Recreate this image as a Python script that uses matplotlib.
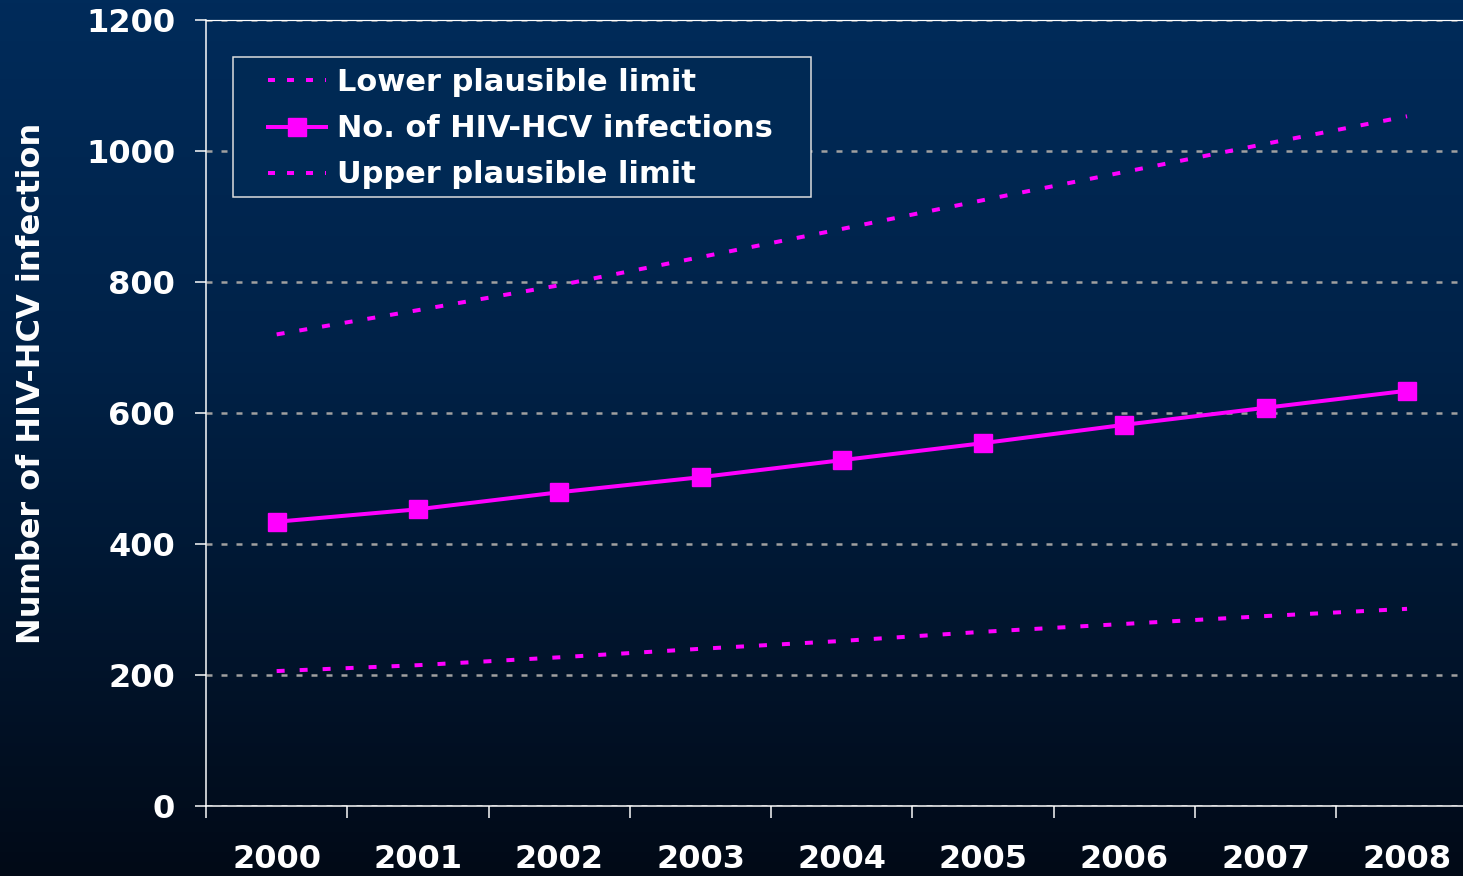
import matplotlib
matplotlib.use("Agg")
import matplotlib.pyplot as plt
import numpy as np
from matplotlib.colors import LinearSegmentedColormap
from matplotlib.patches import Rectangle
from matplotlib.lines import Line2D

years = ["2000", "2001", "2002", "2003", "2004", "2005", "2006", "2007", "2008"]
infections = [434, 453, 479, 502, 528, 554, 582, 608, 634]
upper_limit = [720, 757, 795, 838, 881, 925, 968, 1011, 1053]
lower_limit = [206, 215, 227, 240, 252, 266, 278, 290, 301]
yticks = [0, 200, 400, 600, 800, 1000, 1200]

plt.rcParams['lines.scale_dashes'] = False
plt.rcParams['font.family'] = ['DejaVu Sans']

W, H = 1463, 876
DPI = 100
fig = plt.figure(figsize=(W / DPI, H / DPI), dpi=DPI)

# background gradient
bg = fig.add_axes([0, 0, 1, 1], zorder=-10)
cmap = LinearSegmentedColormap.from_list(
    "bg", [(0.0, "#002b5a"), (0.4, "#002248"), (1.0, "#020a17")])
grad = np.linspace(0, 1, 256).reshape(-1, 1)
bg.imshow(grad, aspect="auto", cmap=cmap, extent=[0, 1, 0, 1], origin="upper")
bg.axis("off")

px = lambda v: v * 72 / DPI  # px -> pt

left = 206 / W
bottom = (H - 806) / H
height = (806 - 20) / H
width = 9 * 141.3 / W
ax = fig.add_axes([left, bottom, width, height])
ax.patch.set_alpha(0)

x = np.arange(len(years))
magenta = "#ff00ff"
dash_style = (0, (px(8), px(15)))

ax.plot(x, lower_limit, color=magenta, lw=px(4), linestyle=dash_style, zorder=3)
ax.plot(x, upper_limit, color=magenta, lw=px(4), linestyle=dash_style, zorder=3)
ax.plot(x, infections, color=magenta, lw=px(4), marker="s", markersize=px(18),
        zorder=4)

ax.set_xlim(-0.5, len(years) - 0.5)
ax.set_ylim(0, 1200)
ax.set_yticks(yticks)
ax.set_yticklabels([str(v) for v in yticks])
ax.set_xticks(x)
ax.set_xticklabels(years)
ax.set_xticks(np.arange(-0.5, len(years), 1.0), minor=True)

for s in ["left", "bottom", "top"]:
    ax.spines[s].set_color("white")
    ax.spines[s].set_linewidth(px(1.5))
ax.spines["top"].set_linewidth(px(1.2))
ax.spines["right"].set_visible(False)

ax.tick_params(axis="y", which="major", direction="out", length=px(11),
               width=px(1.5), color="white", pad=px(20), labelsize=23,
               labelcolor="white")
ax.tick_params(axis="x", which="major", length=0, pad=px(38), labelsize=23,
               labelcolor="white")
ax.tick_params(axis="x", which="minor", direction="out", length=px(12),
               width=px(1.5), color="white")
for lab in ax.get_xticklabels() + ax.get_yticklabels():
    lab.set_fontweight("bold")

ax.yaxis.grid(True, color="#a0a0a0", lw=px(2.5), linestyle=(0, (px(6), px(9))))
ax.set_axisbelow(True)

fig.text(32 / W, 1 - 383 / H, "Number of HIV-HCV infection", rotation=90,
         ha="center", va="center", fontsize=23, fontweight="bold", color="white")

# legend box
rect = Rectangle((233 / W, 1 - 197 / H), (811 - 233) / W, (197 - 57) / H,
                 transform=fig.transFigure, facecolor="#002954",
                 edgecolor="#e0e0e0", lw=px(1.5), zorder=5)
ax.add_artist(rect)
rect.set_clip_on(False)

handles = [
    Line2D([], [], color=magenta, lw=px(4), linestyle=(0, (px(7), px(12)))),
    Line2D([], [], color=magenta, lw=px(4), marker="s", markersize=px(18)),
    Line2D([], [], color=magenta, lw=px(4), linestyle=(0, (px(7), px(12)))),
]
labels = ["Lower plausible limit", "No. of HIV-HCV infections",
          "Upper plausible limit"]
leg = ax.legend(handles, labels, loc="upper left",
                bbox_to_anchor=(262 / W, 1 - 62 / H),
                bbox_transform=fig.transFigure, frameon=False,
                prop=dict(size=22, weight="bold"), handlelength=1.9,
                handletextpad=0.36, labelspacing=0.56, borderpad=0.2,
                borderaxespad=0)
leg.set_zorder(6)
for t in leg.get_texts():
    t.set_color("white")

fig.savefig("out.png", dpi=DPI)
